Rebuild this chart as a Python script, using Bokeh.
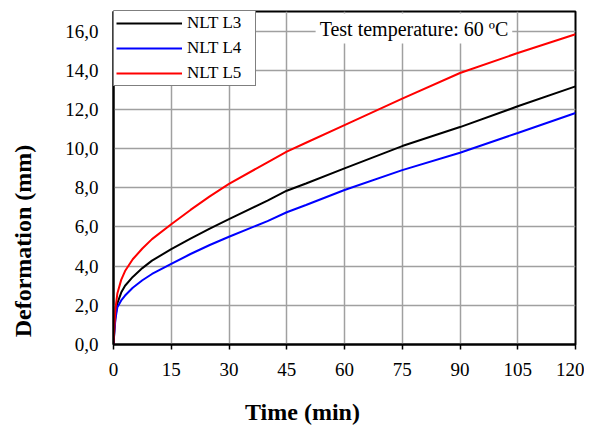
from bokeh.plotting import figure
from bokeh.models import (Range1d, FixedTicker, CustomJSTickFormatter, Legend,
                          LegendItem, Label)
from bokeh.embed import file_html
from bokeh.resources import INLINE

# ---- data ----
time_min = [0, 0.25, 0.5, 1, 2, 3, 5, 7.5, 10, 15, 20, 25, 30, 40, 45, 50,
            60, 75, 90, 105, 120]
nlt_l3 = [0, 0.8, 1.4, 2.1, 2.65, 3.0, 3.45, 3.9, 4.28, 4.87, 5.4, 5.92, 6.4,
          7.35, 7.85, 8.22, 8.99, 10.13, 11.1, 12.16, 13.18]
nlt_l4 = [0, 0.7, 1.3, 1.9, 2.25, 2.5, 2.9, 3.28, 3.6, 4.12, 4.62, 5.08, 5.5,
          6.3, 6.75, 7.12, 7.89, 8.9, 9.79, 10.8, 11.82]
nlt_l5 = [0, 1.0, 1.8, 2.6, 3.3, 3.75, 4.35, 4.9, 5.38, 6.14, 6.87, 7.56, 8.2,
          9.3, 9.85, 10.3, 11.2, 12.55, 13.86, 14.88, 15.84]
series_names = ["NLT L3", "NLT L4", "NLT L5"]
series_colors = ["#000000", "#0000ff", "#ff0000"]
x_ticks = [0, 15, 30, 45, 60, 75, 90, 105, 120]
y_ticks = [0, 2, 4, 6, 8, 10, 12, 14, 16]
annotation_text = "Test temperature: 60 ºC"
x_title = "Time (min)"
y_title = "Deformation (mm)"

FONT = "Liberation Serif"
NBSP = "\u00a0"

p = figure(width=584, height=427, output_backend="svg", toolbar_location=None,
           x_range=Range1d(0, 120), y_range=Range1d(0, 17),
           min_border_left=113, min_border_right=9, min_border_top=11,
           min_border_bottom=83)
p.background_fill_color = "white"
p.border_fill_color = "white"
p.outline_line_color = "black"
p.outline_line_width = 2

# grid
p.xgrid.ticker = FixedTicker(ticks=x_ticks)
p.ygrid.ticker = FixedTicker(ticks=y_ticks)
for g in (p.xgrid, p.ygrid):
    g.grid_line_color = "#a0a0a0"
    g.grid_line_width = 1.5

# axes
p.xaxis.ticker = FixedTicker(ticks=x_ticks)
p.yaxis.ticker = FixedTicker(ticks=y_ticks)
p.yaxis.formatter = CustomJSTickFormatter(code="return tick.toFixed(1).replace('.', ',');")
for ax in (p.xaxis, p.yaxis):
    ax.axis_line_color = "black"
    ax.axis_line_width = 2
    ax.major_label_text_font = FONT
    ax.major_label_text_font_size = "19px"
    ax.major_label_text_color = "black"
    ax.minor_tick_line_color = None
    ax.major_tick_in = 0
    ax.axis_label_text_font = FONT
    ax.axis_label_text_font_size = "24px"
    ax.axis_label_text_font_style = "bold"
    ax.axis_label_text_color = "black"
p.xaxis.major_tick_out = 5
p.xaxis.major_tick_line_color = "black"
p.xaxis.major_tick_line_width = 1.5
p.xaxis.major_label_standoff = 13
p.yaxis.major_tick_out = 0
p.yaxis.major_tick_line_color = None
p.yaxis.major_label_standoff = 15

# axis titles sit off-centre in the reference: pad with non-breaking spaces
p.xaxis.axis_label = x_title + NBSP * 14
p.xaxis.axis_label_standoff = 20
p.yaxis.axis_label = y_title + NBSP * 21
p.yaxis.axis_label_standoff = 26

renderers = []
for name, ys, col in zip(series_names, [nlt_l3, nlt_l4, nlt_l5], series_colors):
    r = p.line(time_min, ys, line_color=col, line_width=2)
    renderers.append((name, r))

legend = Legend(items=[LegendItem(label=n, renderers=[r]) for n, r in renderers],
                location=(0, 258), margin=0, padding=2, spacing=5,
                glyph_width=66, glyph_height=20, label_height=20, label_width=66,
                label_standoff=5, label_text_font=FONT,
                label_text_font_size="17px", label_text_color="black",
                border_line_color="black", border_line_width=1,
                background_fill_color="white", background_fill_alpha=1)
p.add_layout(legend)

temp_label = Label(x=52.5, y=16.13, text=annotation_text, text_font=FONT,
                   text_font_size="20px", text_color="black", text_align="left",
                   text_baseline="middle", background_fill_color="white",
                   background_fill_alpha=1, padding=4)
p.add_layout(temp_label)

open("out.html", "w").write(file_html(p, INLINE))
